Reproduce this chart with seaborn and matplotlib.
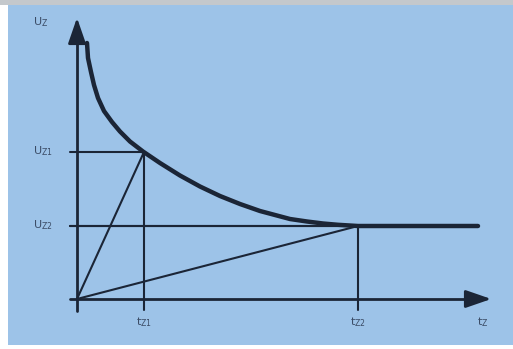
import matplotlib
matplotlib.use("Agg")
import matplotlib.pyplot as plt
import seaborn as sns
import numpy as np
import pandas as pd
from matplotlib.patches import Rectangle

# ---- data (arbitrary units, origin at axis crossing) ----
curve_t = [10, 11, 14, 17, 21, 27, 35, 43, 53, 66, 83, 103, 123, 143, 163, 183, 198,
           213, 230, 246, 261, 276, 281, 401]
curve_u = [256, 241, 227, 214, 201, 188, 177, 167.5, 157.5, 147.5, 136, 123.5, 112.5, 103, 95, 88, 84,
           80, 77.5, 75.5, 74.2, 73.3, 73, 73]
t_marks = [67, 281]          # t_Z1, t_Z2
u_marks = [147, 73]          # U_Z1, U_Z2
t_labels = [r"$\mathregular{t_{Z1}}$", r"$\mathregular{t_{Z2}}$"]
u_labels = [r"$\mathregular{U_{Z1}}$", r"$\mathregular{U_{Z2}}$"]
axis_labels = [r"$\mathregular{U_{Z}}$", r"$\mathregular{t_{Z}}$"]
x_axis_end = 417
y_axis_end = 284

sns.set_theme(style="white")
plt.rcParams['font.family'] = ['DejaVu Sans']

W, H = 513, 349
fig = plt.figure(figsize=(W / 100, H / 100), dpi=100)
fig.patch.set_facecolor("white")
fig.patches.append(Rectangle((8 / W, 4 / H), 505 / W, 340 / H, transform=fig.transFigure,
                             facecolor="#9dc3e8", edgecolor="none", zorder=-2))
fig.patches.append(Rectangle((0, 1 - 5 / H), 1, 5 / H, transform=fig.transFigure,
                             facecolor="#c4c8cc", edgecolor="none", zorder=-2))

ax = fig.add_axes([0, 0, 1, 1])
ax.set_zorder(2)
ax.set_xlim(-77, W - 77)
ax.set_ylim(299 - H, 299)
ax.patch.set_alpha(0)
ax.axis("off")

dark = "#1b2536"
txt = "#3b4c66"

def seg(xs, ys, lw):
    sns.lineplot(x=xs, y=ys, ax=ax, color=dark, lw=lw, sort=False,
                 estimator=None, errorbar=None)

# axes lines
seg([-7, x_axis_end - 14], [0, 0], 2)
seg([0, 0], [-12, y_axis_end - 14], 2)
ax.annotate("", xy=(x_axis_end, 0), xytext=(x_axis_end - 18, 0),
            arrowprops=dict(arrowstyle="-|>,head_length=1.3,head_width=0.45", color=dark, lw=2))
ax.annotate("", xy=(0, y_axis_end), xytext=(0, y_axis_end - 18),
            arrowprops=dict(arrowstyle="-|>,head_length=1.3,head_width=0.45", color=dark, lw=2))

# guide lines
for t, u in zip(t_marks, u_marks):
    seg([-7, t], [u, u], 1.5)
    seg([t, t], [u, -11], 1.5)
    seg([0, t], [0, u], 1.5)
seg([-7, curve_t[-1]], [u_marks[1], u_marks[1]], 1.5)

# curve
df = pd.DataFrame({"t": curve_t, "u": curve_u})
sns.lineplot(data=df, x="t", y="u", ax=ax, color=dark, lw=3.2, sort=False,
             estimator=None, errorbar=None)

# labels
ax.text(-44, 277, axis_labels[0], fontsize=8, color=txt, ha="left", va="center")
for u, lab in zip(u_marks, u_labels):
    ax.text(-44, u + 1, lab, fontsize=8, color=txt, ha="left", va="center")
for t, lab in zip(t_marks, t_labels):
    ax.text(t, -23, lab, fontsize=8, color=txt, ha="center", va="center")
ax.text(406, -23, axis_labels[1], fontsize=8, color=txt, ha="center", va="center")

fig.savefig("out.png", dpi=100)
